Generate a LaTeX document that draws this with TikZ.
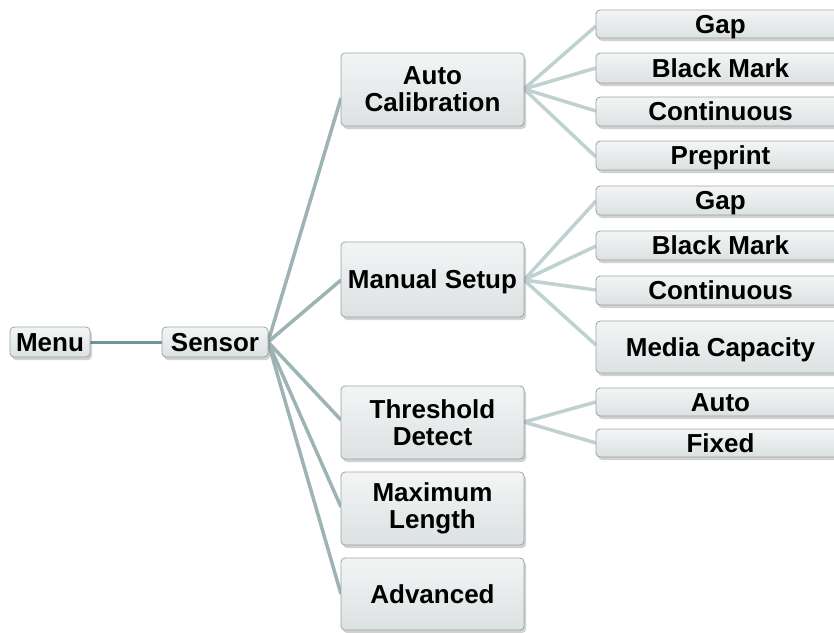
\documentclass[tikz,border=0pt]{standalone}
\usepackage{fontspec}
\newfontfamily\lab{Liberation Sans}
\usetikzlibrary{shadows}
\definecolor{boxtop}{HTML}{F3F5F5}
\definecolor{boxbot}{HTML}{DCE1E2}
\definecolor{boxline}{HTML}{9AA3A5}
\definecolor{linkA}{HTML}{6F9599}
\definecolor{linkB}{HTML}{9DB3B4}
\definecolor{linkC}{HTML}{BFD1D0}
\tikzset{
  box/.style={draw=boxline, line width=0.8pt, rounded corners=4pt,
    top color=boxtop, bottom color=boxbot, inner sep=0pt, align=center,
    font=\lab\bfseries\fontsize{26}{27}\selectfont, text=black,
    drop shadow={shadow xshift=2pt, shadow yshift=-3pt, opacity=0.3, fill=black!60}},
  oneline/.style={text height=18.6pt, text depth=0pt},
  lvone/.style={box, oneline, minimum width=80pt, minimum height=30pt},
  lvtwo/.style={box, minimum width=183pt, minimum height=73pt},
  lvthree/.style={box, oneline, minimum width=249pt, minimum height=29pt},
  lkA/.style={draw=linkA, line width=3pt},
  lkB/.style={draw=linkB, line width=3.5pt},
  lkC/.style={draw=linkC, line width=3.5pt},
}
\begin{document}
\begin{tikzpicture}[x=1pt,y=-1pt]
\useasboundingbox (0,0) rectangle (834,632);
% connectors first
\coordinate (sR) at (268,342);
\coordinate (acR) at (524,89);
\coordinate (msR) at (524,280);
\coordinate (tdR) at (524,422);
\draw[lkA] (90,342) -- (162,342);
\draw[lkB] (sR) -- (341,98);
\draw[lkB] (sR) -- (341,280);
\draw[lkB] (sR) -- (341,420);
\draw[lkB] (sR) -- (341,507);
\draw[lkB] (sR) -- (341,594);
\draw[lkC] (acR) -- (596,26);
\draw[lkC] (acR) -- (596,68);
\draw[lkC] (acR) -- (596,111);
\draw[lkC] (acR) -- (596,157);
\draw[lkC] (msR) -- (596,201);
\draw[lkC] (msR) -- (596,246);
\draw[lkC] (msR) -- (596,290);
\draw[lkC] (msR) -- (596,345);
\draw[lkC] (tdR) -- (596,402);
\draw[lkC] (tdR) -- (596,443);
% nodes
\node[lvone] (menu) at (50,342) {Menu};
\node[lvone, minimum width=106pt] (sensor) at (215,342) {Sensor};
\node[lvtwo] (ac) at (432.5,89.5) {Auto\\Calibration};
\node[lvtwo, oneline, minimum height=75pt] (ms) at (432.5,279.5) {Manual Setup};
\node[lvtwo] (td) at (432.5,422.5) {Threshold\\Detect};
\node[lvtwo] (ml) at (432.5,508.5) {Maximum\\Length};
\node[lvtwo, oneline, minimum height=72pt] (adv) at (432.5,594) {Advanced};
\node[lvthree, minimum height=28pt] (g1) at (720.5,24) {Gap};
\node[lvthree, minimum height=30pt] (b1) at (720.5,68) {Black Mark};
\node[lvthree] (c1) at (720.5,111.5) {Continuous};
\node[lvthree] (p1) at (720.5,155.5) {Preprint};
\node[lvthree] (g2) at (720.5,200.5) {Gap};
\node[lvthree] (b2) at (720.5,245.5) {Black Mark};
\node[lvthree] (c2) at (720.5,290.5) {Continuous};
\node[lvthree, minimum height=52pt] (mc) at (720.5,347) {Media Capacity};
\node[lvthree, minimum height=28pt] (au) at (720.5,402) {Auto};
\node[lvthree, minimum height=28pt] (fx) at (720.5,443) {Fixed};
\end{tikzpicture}
\end{document}
